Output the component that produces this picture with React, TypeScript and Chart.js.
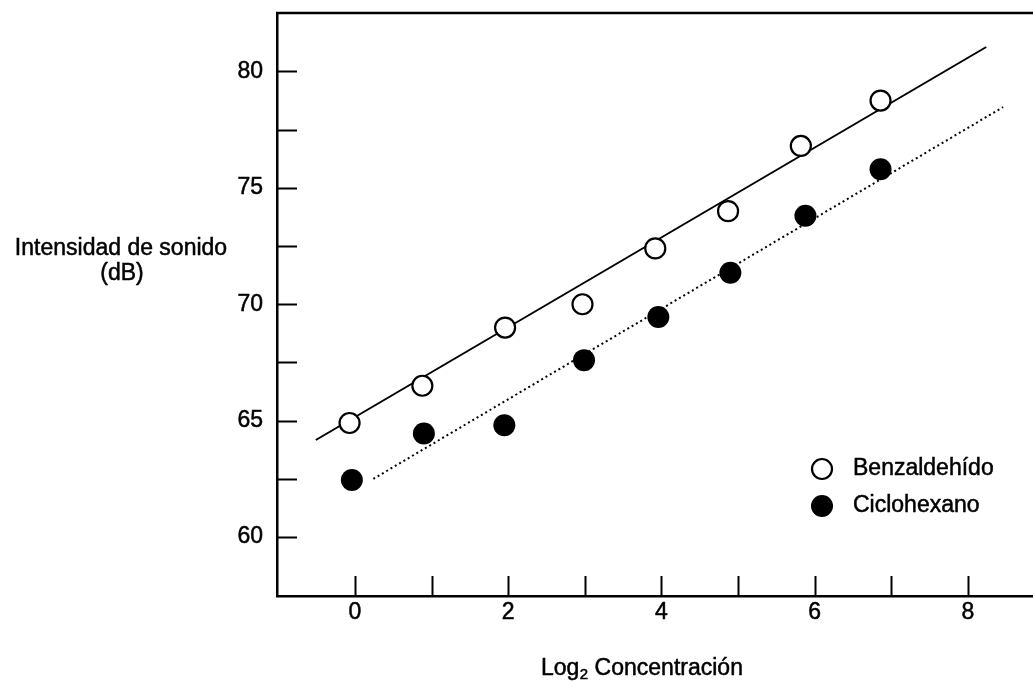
import { useEffect, useRef } from 'react';
import { Chart, registerables } from 'chart.js';

Chart.register(...registerables);

// ---- data ----
const seriesNames = ['Benzaldehído', 'Ciclohexano'];

const benzX = [-0.07, 0.88, 1.96, 2.97, 3.92, 4.87, 5.82, 6.86];
const benzY = [64.9, 66.5, 69.0, 70.0, 72.4, 74.0, 76.8, 78.75];

const cicloX = [-0.04, 0.9, 1.95, 2.99, 3.96, 4.9, 5.88, 6.86];
const cicloY = [62.45, 64.45, 64.8, 67.6, 69.45, 71.35, 73.8, 75.8];

const fitBenzX = [-0.51, 8.24];
const fitBenzY = [64.17, 81.05];

const fitCicloX = [0.24, 8.46];
const fitCicloY = [62.5, 78.47];

const xTicks = [0, 1, 2, 3, 4, 5, 6, 7, 8];
const xTickLabels = ['0', '', '2', '', '4', '', '6', '', '8'];
const yTicks = [60, 62.5, 65, 67.5, 70, 72.5, 75, 77.5, 80];
const yTickLabels = ['60', '', '65', '', '70', '', '75', '', '80'];

const xTitleMain = 'Log';
const xTitleSub = '2';
const xTitleRest = ' Concentración';
const yTitleLines = ['Intensidad de sonido', '(dB)'];

const FONT = '"Liberation Sans", Arial, Helvetica, sans-serif';
const FS = 23;

const toPoints = (xs: number[], ys: number[]) => xs.map((x, i) => ({ x, y: ys[i] }));

const decorPlugin = {
  id: 'decor',
  afterDraw(chart: any) {
    const { ctx, chartArea: a, scales } = chart;
    const xs = scales.x;
    const ys = scales.y;
    ctx.save();
    ctx.strokeStyle = '#000';
    ctx.fillStyle = '#000';

    // top frame line
    ctx.lineWidth = 2.5;
    ctx.beginPath();
    ctx.moveTo(a.left - 1, a.top);
    ctx.lineTo(a.right, a.top);
    ctx.stroke();

    // inward tick marks
    ctx.lineWidth = 2;
    ys.ticks.forEach((t: any) => {
      const y = Math.round(ys.getPixelForValue(t.value)) + 0.5;
      ctx.beginPath();
      ctx.moveTo(a.left, y);
      ctx.lineTo(a.left + 20, y);
      ctx.stroke();
    });
    xs.ticks.forEach((t: any) => {
      const x = Math.round(xs.getPixelForValue(t.value)) + 0.5;
      ctx.beginPath();
      ctx.moveTo(x, a.bottom);
      ctx.lineTo(x, a.bottom - 20);
      ctx.stroke();
    });

    const text = (s: string, x: number, y: number) => {
      ctx.lineWidth = 0.5;
      ctx.fillText(s, x, y);
      ctx.strokeText(s, x, y);
    };

    // y title (horizontal, two lines)
    ctx.font = `${FS}px ${FONT}`;
    ctx.textAlign = 'center';
    ctx.textBaseline = 'middle';
    text(yTitleLines[0], 121, 249);
    text(yTitleLines[1], 122, 274);

    // x title with subscript
    ctx.textAlign = 'left';
    ctx.textBaseline = 'alphabetic';
    let x = 541;
    const base = 675;
    ctx.font = `${FS}px ${FONT}`;
    text(xTitleMain, x, base);
    x += ctx.measureText(xTitleMain).width;
    ctx.font = `15px ${FONT}`;
    text(xTitleSub, x + 0.5, base + 4);
    x += ctx.measureText(xTitleSub).width + 0.5;
    ctx.font = `${FS}px ${FONT}`;
    text(xTitleRest, x, base);

    // legend
    const lx = 822;
    const ly = [469, 506];
    ctx.lineWidth = 2.2;
    ctx.beginPath();
    ctx.arc(lx, ly[0], 10, 0, Math.PI * 2);
    ctx.fillStyle = '#fff';
    ctx.fill();
    ctx.stroke();
    ctx.fillStyle = '#000';
    ctx.beginPath();
    ctx.arc(lx, ly[1], 11, 0, Math.PI * 2);
    ctx.fill();
    ctx.font = `${FS}px ${FONT}`;
    ctx.textBaseline = 'middle';
    text(seriesNames[0], 853, ly[0]);
    text(seriesNames[1], 853, ly[1]);

    ctx.restore();
  },
};

export default function App() {
  const ref = useRef<HTMLCanvasElement | null>(null);

  useEffect(() => {
    if (!ref.current) return;
    const chart = new Chart(ref.current, {
      type: 'scatter',
      data: {
        datasets: [
          {
            label: 'fit ' + seriesNames[0],
            type: 'line',
            data: toPoints(fitBenzX, fitBenzY),
            borderColor: '#000',
            borderWidth: 2,
            pointRadius: 0,
            fill: false,
            order: 3,
          } as any,
          {
            label: 'fit ' + seriesNames[1],
            type: 'line',
            data: toPoints(fitCicloX, fitCicloY),
            borderColor: '#000',
            borderWidth: 2,
            borderDash: [2, 3],
            pointRadius: 0,
            fill: false,
            order: 3,
          } as any,
          {
            label: seriesNames[0],
            data: toPoints(benzX, benzY),
            pointRadius: 10,
            pointBackgroundColor: '#fff',
            pointBorderColor: '#000',
            pointBorderWidth: 2.2,
            order: 1,
          },
          {
            label: seriesNames[1],
            data: toPoints(cicloX, cicloY),
            pointRadius: 11,
            pointBackgroundColor: '#000',
            pointBorderColor: '#000',
            pointBorderWidth: 0,
            order: 1,
          },
        ],
      },
      options: {
        responsive: false,
        animation: false,
        layout: { autoPadding: false, padding: { top: 13, right: 0, left: 0, bottom: 0 } },
        plugins: {
          legend: { display: false },
          tooltip: { enabled: false },
          title: { display: false },
        },
        scales: {
          x: {
            type: 'linear',
            min: -1.017,
            max: 8.85,
            afterBuildTicks: (s: any) => {
              s.ticks = xTicks.map((v) => ({ value: v }));
            },
            afterFit: (s: any) => {
              s.height = 85;
              s.paddingLeft = 0;
              s.paddingRight = 0;
            },
            grid: { display: false, drawTicks: false },
            border: { display: true, color: '#000', width: 2.5 },
            ticks: {
              padding: 5,
              color: '#000',
              textStrokeColor: '#000',
              textStrokeWidth: 0.5,
              font: { family: FONT, size: FS, lineHeight: 1 },
              maxRotation: 0,
              autoSkip: false,
              callback: (_v: any, i: number) => xTickLabels[i],
            },
          },
          y: {
            type: 'linear',
            min: 57.47,
            max: 82.51,
            afterBuildTicks: (s: any) => {
              s.ticks = yTicks.map((v) => ({ value: v }));
            },
            afterFit: (s: any) => {
              s.width = 277;
              s.paddingTop = 0;
              s.paddingBottom = 0;
            },
            grid: { display: false, drawTicks: false },
            border: { display: true, color: '#000', width: 2.5 },
            ticks: {
              padding: 14,
              color: '#000',
              textStrokeColor: '#000',
              textStrokeWidth: 0.5,
              font: { family: FONT, size: FS, lineHeight: 1 },
              autoSkip: false,
              callback: (_v: any, i: number) => yTickLabels[i],
            },
          },
        },
      },
      plugins: [decorPlugin],
    });
    return () => chart.destroy();
  }, []);

  return (
    <div style={{ position: 'fixed', left: 0, top: 0, width: 1033, height: 681, background: '#fff' }}>
      <canvas ref={ref} width={1033} height={681} style={{ display: 'block' }} />
    </div>
  );
}
